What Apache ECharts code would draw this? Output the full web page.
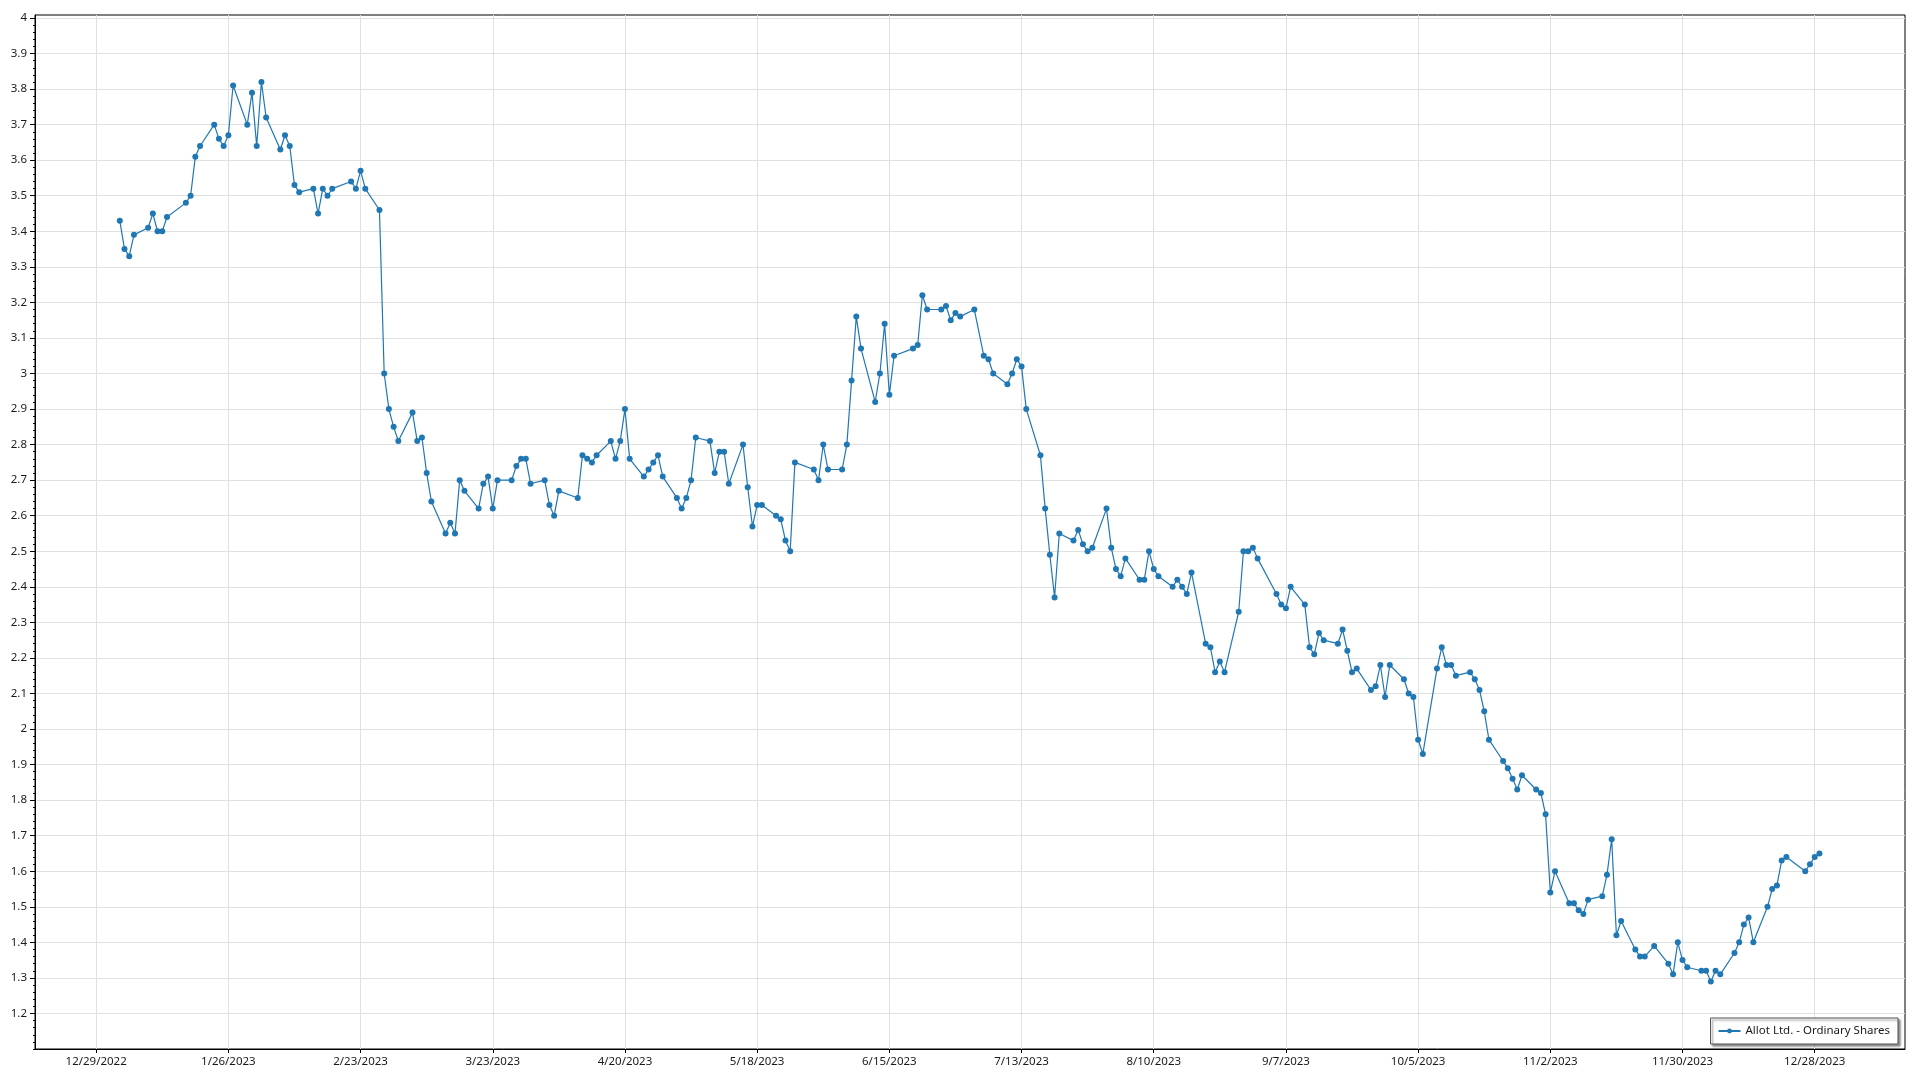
<!DOCTYPE html>
<html>
<head>
<meta charset="utf-8">
<script src="https://cdn.jsdelivr.net/npm/echarts@6/dist/echarts.min.js"></script>
<style>
html,body{margin:0;padding:0;background:#fff;}
#chart{width:1920px;height:1080px;}
</style>
</head>
<body>
<div id="chart"></div>
<script>
const seriesName = 'Allot Ltd. - Ordinary Shares';

const dates = [
'2023-01-03','2023-01-04','2023-01-05','2023-01-06','2023-01-09','2023-01-10','2023-01-11','2023-01-12','2023-01-13','2023-01-17','2023-01-18','2023-01-19','2023-01-20','2023-01-23','2023-01-24','2023-01-25','2023-01-26','2023-01-27','2023-01-30','2023-01-31',
'2023-02-01','2023-02-02','2023-02-03','2023-02-06','2023-02-07','2023-02-08','2023-02-09','2023-02-10','2023-02-13','2023-02-14','2023-02-15','2023-02-16','2023-02-17','2023-02-21','2023-02-22','2023-02-23','2023-02-24','2023-02-27','2023-02-28',
'2023-03-01','2023-03-02','2023-03-03','2023-03-06','2023-03-07','2023-03-08','2023-03-09','2023-03-10','2023-03-13','2023-03-14','2023-03-15','2023-03-16','2023-03-17','2023-03-20','2023-03-21','2023-03-22','2023-03-23','2023-03-24','2023-03-27','2023-03-28','2023-03-29','2023-03-30','2023-03-31',
'2023-04-03','2023-04-04','2023-04-05','2023-04-06','2023-04-10','2023-04-11','2023-04-12','2023-04-13','2023-04-14','2023-04-17','2023-04-18','2023-04-19','2023-04-20','2023-04-21','2023-04-24','2023-04-25','2023-04-26','2023-04-27','2023-04-28',
'2023-05-01','2023-05-02','2023-05-03','2023-05-04','2023-05-05','2023-05-08','2023-05-09','2023-05-10','2023-05-11','2023-05-12','2023-05-15','2023-05-16','2023-05-17','2023-05-18','2023-05-19','2023-05-22','2023-05-23','2023-05-24','2023-05-25','2023-05-26','2023-05-30','2023-05-31',
'2023-06-01','2023-06-02','2023-06-05','2023-06-06','2023-06-07','2023-06-08','2023-06-09','2023-06-12','2023-06-13','2023-06-14','2023-06-15','2023-06-16','2023-06-20','2023-06-21','2023-06-22','2023-06-23','2023-06-26','2023-06-27','2023-06-28','2023-06-29','2023-06-30',
'2023-07-03','2023-07-05','2023-07-06','2023-07-07','2023-07-10','2023-07-11','2023-07-12','2023-07-13','2023-07-14','2023-07-17','2023-07-18','2023-07-19','2023-07-20','2023-07-21','2023-07-24','2023-07-25','2023-07-26','2023-07-27','2023-07-28','2023-07-31',
'2023-08-01','2023-08-02','2023-08-03','2023-08-04','2023-08-07','2023-08-08','2023-08-09','2023-08-10','2023-08-11','2023-08-14','2023-08-15','2023-08-16','2023-08-17','2023-08-18','2023-08-21','2023-08-22','2023-08-23','2023-08-24','2023-08-25','2023-08-28','2023-08-29','2023-08-30','2023-08-31',
'2023-09-01','2023-09-05','2023-09-06','2023-09-07','2023-09-08','2023-09-11','2023-09-12','2023-09-13','2023-09-14','2023-09-15','2023-09-18','2023-09-19','2023-09-20','2023-09-21','2023-09-22','2023-09-25','2023-09-26','2023-09-27','2023-09-28','2023-09-29',
'2023-10-02','2023-10-03','2023-10-04','2023-10-05','2023-10-06','2023-10-09','2023-10-10','2023-10-11','2023-10-12','2023-10-13','2023-10-16','2023-10-17','2023-10-18','2023-10-19','2023-10-20','2023-10-23','2023-10-24','2023-10-25','2023-10-26','2023-10-27','2023-10-30','2023-10-31',
'2023-11-01','2023-11-02','2023-11-03','2023-11-06','2023-11-07','2023-11-08','2023-11-09','2023-11-10','2023-11-13','2023-11-14','2023-11-15','2023-11-16','2023-11-17','2023-11-20','2023-11-21','2023-11-22','2023-11-24','2023-11-27','2023-11-28','2023-11-29','2023-11-30',
'2023-12-01','2023-12-04','2023-12-05','2023-12-06','2023-12-07','2023-12-08','2023-12-11','2023-12-12','2023-12-13','2023-12-14','2023-12-15','2023-12-18','2023-12-19','2023-12-20','2023-12-21','2023-12-22','2023-12-26','2023-12-27','2023-12-28','2023-12-29'
];

const prices = [
3.43,3.35,3.33,3.39,3.41,3.45,3.40,3.40,3.44,3.48,3.50,3.61,3.64,3.70,3.66,3.64,3.67,3.81,3.70,3.79,
3.64,3.82,3.72,3.63,3.67,3.64,3.53,3.51,3.52,3.45,3.52,3.50,3.52,3.54,3.52,3.57,3.52,3.46,3.00,
2.90,2.85,2.81,2.89,2.81,2.82,2.72,2.64,2.55,2.58,2.55,2.70,2.67,2.62,2.69,2.71,2.62,2.70,2.70,2.74,2.76,2.76,2.69,
2.70,2.63,2.60,2.67,2.65,2.77,2.76,2.75,2.77,2.81,2.76,2.81,2.90,2.76,2.71,2.73,2.75,2.77,2.71,
2.65,2.62,2.65,2.70,2.82,2.81,2.72,2.78,2.78,2.69,2.80,2.68,2.57,2.63,2.63,2.60,2.59,2.53,2.50,2.75,2.73,2.70,
2.80,2.73,2.73,2.80,2.98,3.16,3.07,2.92,3.00,3.14,2.94,3.05,3.07,3.08,3.22,3.18,3.18,3.19,3.15,3.17,3.16,
3.18,3.05,3.04,3.00,2.97,3.00,3.04,3.02,2.90,2.77,2.62,2.49,2.37,2.55,2.53,2.56,2.52,2.50,2.51,2.62,
2.51,2.45,2.43,2.48,2.42,2.42,2.50,2.45,2.43,2.40,2.42,2.40,2.38,2.44,2.24,2.23,2.16,2.19,2.16,2.33,2.50,2.50,2.51,
2.48,2.38,2.35,2.34,2.40,2.35,2.23,2.21,2.27,2.25,2.24,2.28,2.22,2.16,2.17,2.11,2.12,2.18,2.09,2.18,
2.14,2.10,2.09,1.97,1.93,2.17,2.23,2.18,2.18,2.15,2.16,2.14,2.11,2.05,1.97,1.91,1.89,1.86,1.83,1.87,1.83,1.82,
1.76,1.54,1.60,1.51,1.51,1.49,1.48,1.52,1.53,1.59,1.69,1.42,1.46,1.38,1.36,1.36,1.39,1.34,1.31,1.40,1.35,
1.33,1.32,1.32,1.29,1.32,1.31,1.37,1.40,1.45,1.47,1.40,1.50,1.55,1.56,1.63,1.64,1.60,1.62,1.64,1.65
];

const xTickDates = ['2022-12-29','2023-01-26','2023-02-23','2023-03-23','2023-04-20','2023-05-18','2023-06-15','2023-07-13','2023-08-10','2023-09-07','2023-10-05','2023-11-02','2023-11-30','2023-12-28'];
const yTickValues = [1.2,1.3,1.4,1.5,1.6,1.7,1.8,1.9,2,2.1,2.2,2.3,2.4,2.5,2.6,2.7,2.8,2.9,3,3.1,3.2,3.3,3.4,3.5,3.6,3.7,3.8,3.9,4];

const xMin = Date.parse('2022-12-16T01:00:00Z');
const xMax = Date.parse('2024-01-16T03:00:00Z');
const yMin = 1.1, yMax = 4.0084;

const toTs = s => Date.parse(s + 'T00:00:00Z');
const xTicks = xTickDates.map(toTs);
const seriesData = dates.map((d, i) => [toTs(d), prices[i]]);

const minorTicks = [];
for (let k = 0; k <= 145; k++) minorTicks.push(Math.round((yMin + k * 0.02) * 1000) / 1000);

const fontFam = '"Noto Sans", "Open Sans", sans-serif';
const textColor = '#1a1a1a';

const chart = echarts.init(document.getElementById('chart'), null, {renderer: 'canvas'});
chart.setOption({
  animation: false,
  backgroundColor: '#ffffff',
  grid: {
    left: 35, right: 15, top: 15, bottom: 31,
    show: true, borderColor: '#000', borderWidth: 1, backgroundColor: 'transparent'
  },
  legend: {
    show: true,
    right: 22, bottom: 36,
    orient: 'horizontal',
    data: [seriesName],
    backgroundColor: '#fff',
    borderColor: '#555',
    borderWidth: 1,
    padding: [7, 8, 7, 7],
    itemWidth: 22, itemHeight: 6, itemGap: 5,
    shadowColor: 'rgba(0,0,0,0.45)', shadowBlur: 2, shadowOffsetX: 2, shadowOffsetY: 2,
    textStyle: {fontFamily: fontFam, fontSize: 11.5, color: textColor}
  },
  xAxis: {
    type: 'value',
    min: xMin, max: xMax,
    axisLine: {show: true, onZero: false, lineStyle: {color: '#000', width: 1}},
    axisTick: {show: true, customValues: xTicks, length: 4, lineStyle: {color: '#000'}},
    axisLabel: {
      show: true, customValues: xTicks, margin: 7,
      fontFamily: fontFam, fontSize: 11.5, color: textColor,
      formatter: v => { const d = new Date(v); return (d.getUTCMonth() + 1) + '/' + d.getUTCDate() + '/' + d.getUTCFullYear(); }
    },
    splitLine: {show: true, lineStyle: {color: '#e0e0e0', width: 1}}
  },
  yAxis: [{
    type: 'value',
    min: yMin, max: yMax,
    axisLine: {show: true, lineStyle: {color: '#000', width: 1}},
    axisTick: {show: true, customValues: yTickValues, length: 5, lineStyle: {color: '#000'}},
    axisLabel: {
      show: true, customValues: yTickValues, margin: 8,
      fontFamily: fontFam, fontSize: 11.5, color: textColor,
      formatter: v => String(Math.round(v * 10) / 10)
    },
    splitLine: {show: true, lineStyle: {color: '#e0e0e0', width: 1}}
  }, {
    type: 'value',
    position: 'left',
    min: yMin, max: yMax,
    axisLine: {show: false},
    axisTick: {show: true, customValues: minorTicks, length: 2, lineStyle: {color: '#000'}},
    axisLabel: {show: false},
    splitLine: {show: false}
  }],
  series: [{
    name: seriesName,
    type: 'line',
    data: seriesData,
    yAxisIndex: 0,
    symbol: 'circle',
    symbolSize: 6,
    showSymbol: true,
    color: '#1f77b4',
    lineStyle: {width: 1.2, color: '#1f77b4'},
    itemStyle: {color: '#1f77b4'}
  }]
});
</script>
</body>
</html>
